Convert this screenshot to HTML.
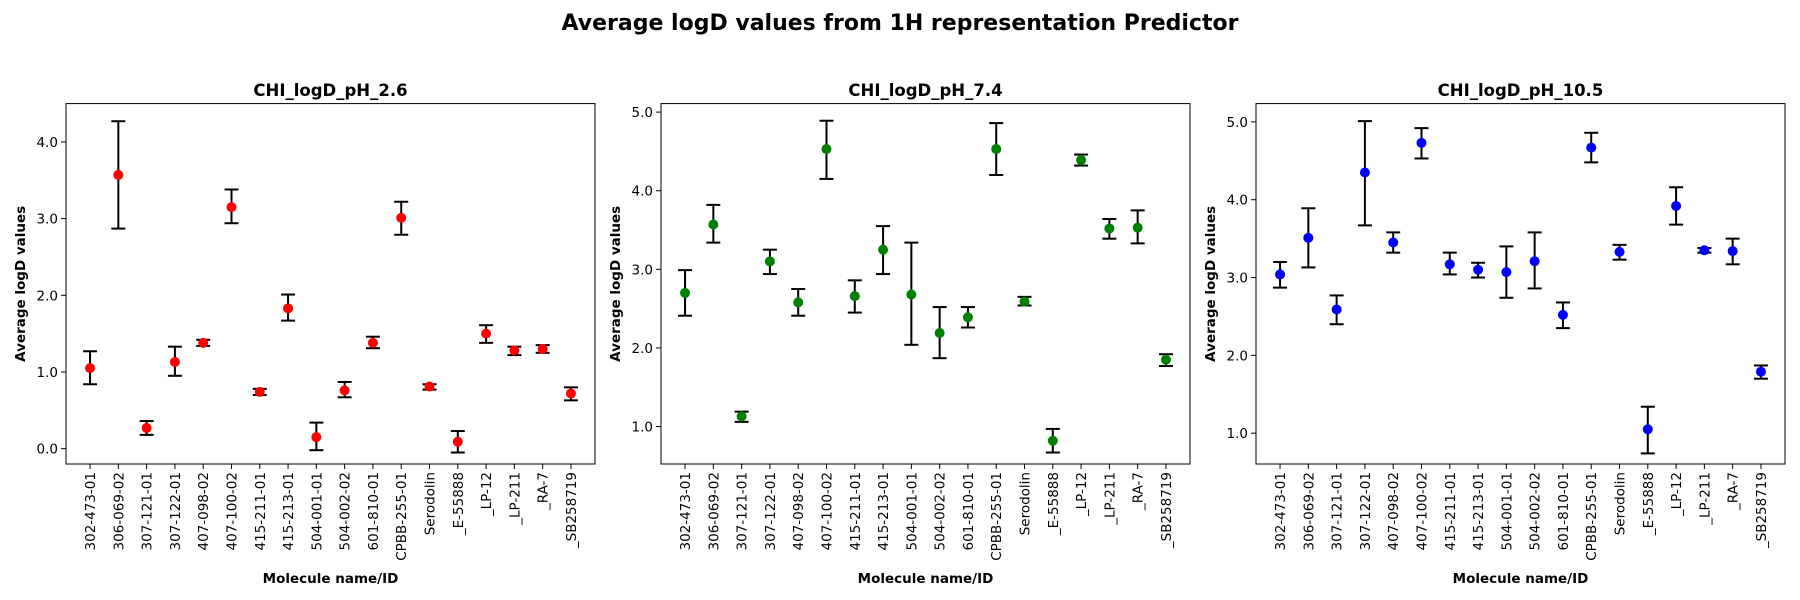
<!DOCTYPE html>
<html><head><meta charset="utf-8"><style>
html,body{margin:0;padding:0;background:#fff;}
svg{display:block;font-family:"DejaVu Sans","Liberation Sans",sans-serif;}
</style></head><body>
<svg id="fig" width="1800" height="600" viewBox="0 0 1800 600" xmlns="http://www.w3.org/2000/svg">
<text x="900" y="30" text-anchor="middle" font-size="22" font-weight="bold">Average logD values from 1H representation Predictor</text>
</svg>
<script>
const categories = ["302-473-01","306-069-02","307-121-01","307-122-01","407-098-02","407-100-02","415-211-01","415-213-01","504-001-01","504-002-02","601-810-01","CPBB-255-01","Serodolin","_E-55888","_LP-12","_LP-211","_RA-7","_SB258719"];
const titles = ["CHI_logD_pH_2.6","CHI_logD_pH_7.4","CHI_logD_pH_10.5"];
const meanPH26 = [1.05,3.57,0.27,1.13,1.38,3.15,0.74,1.83,0.15,0.76,1.38,3.01,0.81,0.09,1.50,1.28,1.30,0.72];
const hiPH26   = [1.27,4.27,0.36,1.33,1.42,3.38,0.78,2.01,0.34,0.87,1.46,3.22,0.84,0.23,1.61,1.33,1.35,0.80];
const loPH26   = [0.84,2.87,0.18,0.95,1.34,2.94,0.70,1.67,-0.02,0.67,1.31,2.79,0.77,-0.05,1.38,1.22,1.25,0.63];
const meanPH74 = [2.70,3.57,1.13,3.10,2.58,4.53,2.66,3.25,2.68,2.19,2.39,4.53,2.59,0.82,4.39,3.52,3.53,1.85];
const hiPH74   = [2.99,3.82,1.19,3.25,2.75,4.89,2.86,3.55,3.34,2.52,2.52,4.86,2.65,0.97,4.46,3.64,3.75,1.92];
const loPH74   = [2.41,3.34,1.06,2.94,2.41,4.15,2.45,2.94,2.04,1.87,2.26,4.20,2.54,0.67,4.32,3.39,3.33,1.77];
const meanPH105 = [3.04,3.51,2.59,4.35,3.45,4.73,3.17,3.10,3.07,3.21,2.52,4.67,3.33,1.05,3.92,3.35,3.34,1.79];
const hiPH105   = [3.20,3.89,2.77,5.01,3.58,4.92,3.32,3.19,3.40,3.58,2.68,4.86,3.42,1.34,4.16,3.38,3.50,1.87];
const loPH105   = [2.87,3.13,2.40,3.67,3.32,4.53,3.04,3.00,2.74,2.86,2.35,4.48,3.23,0.74,3.68,3.32,3.17,1.70];
const ticks1 = ["0.0","1.0","2.0","3.0","4.0"];
const ticks2 = ["1.0","2.0","3.0","4.0","5.0"];
const ticks3 = ["1.0","2.0","3.0","4.0","5.0"];

const NS = "http://www.w3.org/2000/svg";
const svg = document.getElementById('fig');
function mk(tag, attrs, parent){const e=document.createElementNS(NS,tag);for(const k in attrs)e.setAttribute(k,attrs[k]);(parent||svg).appendChild(e);return e;}

const panels = [
 {x0:66, ylim:[-0.2,4.5], mean:meanPH26, hi:hiPH26, lo:loPH26, ticks:ticks1, color:"#ff0000", key:"ph-2-6"},
 {x0:661, ylim:[0.524,5.108], mean:meanPH74, hi:hiPH74, lo:loPH74, ticks:ticks2, color:"#008000", key:"ph-7-4"},
 {x0:1256, ylim:[0.604,5.235], mean:meanPH105, hi:hiPH105, lo:loPH105, ticks:ticks3, color:"#0000ff", key:"ph-10-5"}
];
const W=529, plotTop=103.6, plotBot=464;
panels.forEach((p,pi)=>{
  const g = mk('g',{});
  
  
  const n = categories.length;
  const xs = i => p.x0 + W*((i+0.85)/(n-1+1.7));
  const ys = v => plotBot - (v-p.ylim[0])/(p.ylim[1]-p.ylim[0])*(plotBot-plotTop);
  const t = mk('text',{x:p.x0+W/2,y:96,'text-anchor':'middle','font-size':16.5,'font-weight':'bold'},g);
  t.textContent = titles[pi];
  
  
  p.ticks.forEach(lbl=>{
    const y = ys(parseFloat(lbl));
    mk('line',{x1:p.x0-5,x2:p.x0,y1:y,y2:y,stroke:'#000','stroke-width':1},g);
    const tt = mk('text',{x:p.x0-8,y:y+5,'text-anchor':'end','font-size':13.5},g);
    tt.textContent = lbl;
    
    
  });
  categories.forEach((c,i)=>{
    const x = xs(i);
    mk('line',{x1:x,x2:x,y1:plotBot,y2:plotBot+5,stroke:'#000','stroke-width':1},g);
    const tt = mk('text',{x:0,y:0,'text-anchor':'end','font-size':13.5,transform:`translate(${x+5},${plotBot+8}) rotate(-90)`},g);
    tt.textContent = c;
    
    
  });
  p.mean.forEach((v,i)=>{
    const x = xs(i);
    const eb = mk('g',{stroke:'#000','stroke-width':2},g);
    
    
    mk('line',{x1:x,x2:x,y1:ys(p.lo[i]),y2:ys(p.hi[i])},eb);
    mk('line',{x1:x-7,x2:x+7,y1:ys(p.lo[i]),y2:ys(p.lo[i])},eb);
    mk('line',{x1:x-7,x2:x+7,y1:ys(p.hi[i]),y2:ys(p.hi[i])},eb);
    const c = mk('circle',{cx:x,cy:ys(v),r:5,fill:p.color},g);
    
    
  });
  const fr = mk('rect',{x:p.x0,y:plotTop,width:W,height:plotBot-plotTop,fill:'none',stroke:'#000','stroke-width':1},g);
  
  
  const xl = mk('text',{x:p.x0+W/2,y:583,'text-anchor':'middle','font-size':13.5,'font-weight':'bold'},g);
  xl.textContent = 'Molecule name/ID';
  
  
  const yl = mk('text',{x:0,y:0,'text-anchor':'middle','font-size':13.5,'font-weight':'bold',transform:`translate(${p.x0-41},${(plotTop+plotBot)/2}) rotate(-90)`},g);
  yl.textContent = 'Average logD values';
  
  
});
</script>
</body></html>
